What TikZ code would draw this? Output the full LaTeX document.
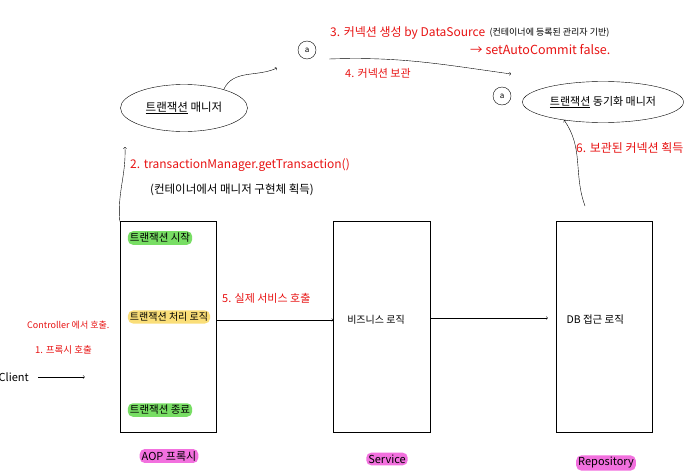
\documentclass[tikz,border=0pt]{standalone}
\usepackage{fontspec}
\setmainfont{Noto Sans CJK KR}
\usetikzlibrary{shapes.geometric,positioning}
\definecolor{pen}{RGB}{232,20,20}
\definecolor{hlgreen}{RGB}{120,222,100}
\definecolor{hlyellow}{RGB}{250,222,120}
\definecolor{hlpink}{RGB}{242,112,222}
\tikzset{
  layer/.style={draw,thin,minimum width=96pt,minimum height=211pt},
  bubble/.style={draw,thin,ellipse},
  circlemark/.style={draw,thin,circle,inner sep=0pt,minimum size=18pt,font=\fontsize{8}{8}\selectfont},
  note/.style={text=pen,inner sep=0pt},
  hl/.style={rounded corners=5pt,inner sep=2pt},
}
\begin{document}
\begin{tikzpicture}[x=1pt,y=-1pt]
\useasboundingbox[fill=white] (0,0) rectangle (685,471);
% layers
\node[layer] (aop) at (168,327) {};
\node[layer,minimum width=97pt] (service) at (382,327) {};
\node[layer] (repo) at (604,327) {};
\node[hl,fill=hlpink,font=\fontsize{11}{12}\selectfont] (aoplbl) at (169,456) {AOP 프록시};
\node[hl,fill=hlpink,font=\fontsize{11}{12}\selectfont] (svclbl) at (387,459) {Service};
\node[hl,fill=hlpink,font=\fontsize{11}{12}\selectfont] (repolbl) at (606,463) {Repository};
% box texts
\node[hl,fill=hlgreen,font=\fontsize{10.5}{11}\selectfont] (txstart) at (160,238) {트랜잭션 시작};
\node[hl,fill=hlyellow,font=\fontsize{10}{11}\selectfont] (txlogic) at (169,317) {트랜잭션 처리 로직};
\node[hl,fill=hlgreen,font=\fontsize{10.5}{11}\selectfont] (txend) at (160,410) {트랜잭션 종료};
\node[font=\fontsize{10}{11}\selectfont] (biz) at (376,320) {비즈니스 로직};
\node[font=\fontsize{10.5}{11}\selectfont,anchor=west] (dbacc) at (563,320) {DB 접근 로직};
% client
\node[anchor=east,inner sep=0pt,font=\fontsize{11}{12}\selectfont] (client) at (29,377) {Client};
\node[note,anchor=west,font=\fontsize{9}{10}\selectfont] (ctrl) at (27,325) {Controller 에서 호출.};
\node[note,anchor=west,font=\fontsize{9.5}{10}\selectfont] (step1) at (35,350) {1. 프록시 호출};
\draw[->,shorten <=9pt] (client) -- ++(71,0) coordinate (aop-in);
% calls between layers
\draw[->] ([yshift=7pt]aop.east) -- ([yshift=7pt]service.west);
\node[note,anchor=west,font=\fontsize{11}{12}\selectfont] (step5) at (222,298) {5. 실제 서비스 호출};
\draw[->,shorten >=8pt] ([yshift=9pt]service.east) -- ([yshift=9pt]repo.west);
% managers
\node[bubble,minimum width=127pt,minimum height=47pt,font=\fontsize{11.5}{12}\selectfont] (txmgr) at (184,108) {\underline{트랜잭션} 매니저};
\node[bubble,minimum width=161pt,minimum height=41pt,font=\fontsize{11}{12}\selectfont] (syncmgr) at (603,102) {\underline{트랜잭션} 동기화 매니저};
\node[circlemark] (ma) at (307,50) {a};
\node[circlemark] (mb) at (502,96) {a};
\coordinate (mgr-in) at (125,147);
\coordinate (ma-in) at (277,68);
\coordinate (mb-in) at (511,74);
\coordinate (repo-out) at (585,206);
\draw[->] (aop.north west) to[out=95,in=-88] (mgr-in);
\draw[->] (txmgr.25) to[out=65,in=205] (ma-in);
\draw[->] ([xshift=13pt,yshift=-9pt]ma.east) to[out=2,in=172] (mb-in);
\draw[->] (repo-out) to[out=110,in=-55] (syncmgr.205);
% notes
\node[note,anchor=west,font=\fontsize{12}{13}\selectfont] (step2) at (130,165) {2. transactionManager.getTransaction()};
\node[anchor=west,inner sep=0pt,font=\fontsize{11.5}{12}\selectfont] (step2note) at (150,190) {(컨테이너에서 매니저 구현체 획득)};
\node[note,anchor=west,font=\fontsize{12}{13}\selectfont] (step3) at (330,33) {3. 커넥션 생성 by DataSource};
\node[anchor=west,inner sep=0pt,font=\fontsize{9}{10}\selectfont,right=4pt of step3] (step3note) {(컨테이너에 등록된 관리자 기반)};
\node[note,anchor=west,font=\fontsize{12.5}{13}\selectfont] (autocommit) at (470,50) {→ setAutoCommit false.};
\node[note,anchor=west,font=\fontsize{11}{12}\selectfont] (step4) at (345,73) {4. 커넥션 보관};
\node[note,anchor=west,font=\fontsize{12}{13}\selectfont] (step6) at (576,148) {6. 보관된 커넥션 획득};
\end{tikzpicture}
\end{document}
